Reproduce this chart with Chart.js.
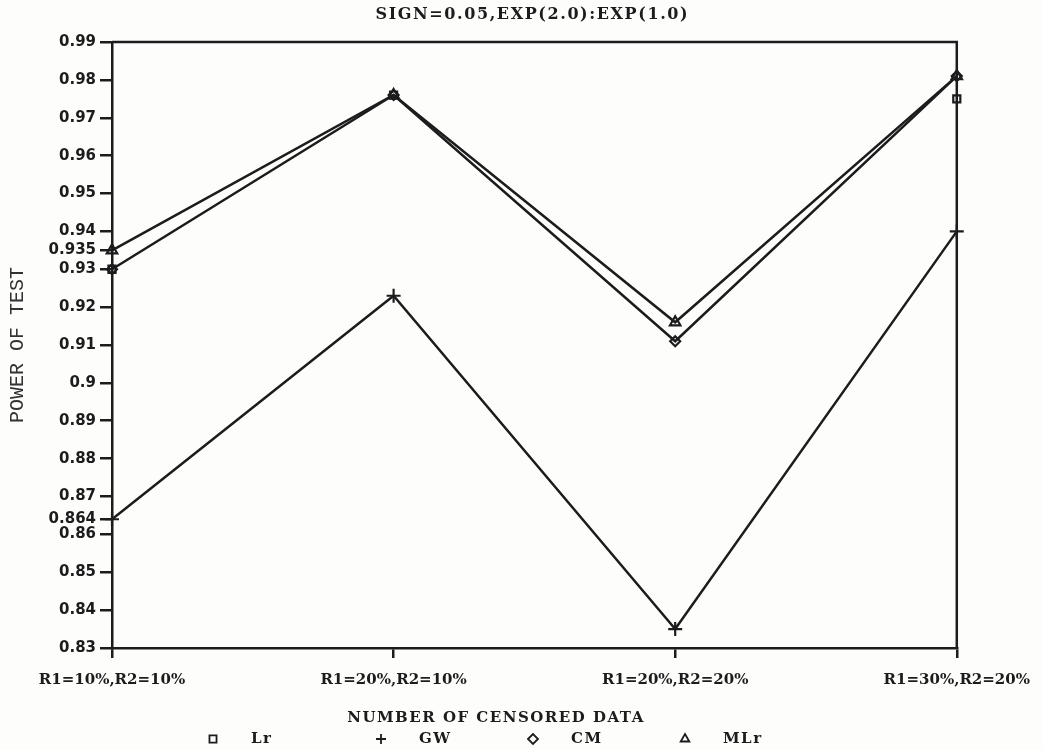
<!DOCTYPE html>
<html>
<head>
<meta charset="utf-8">
<script src="https://cdn.jsdelivr.net/npm/chart.js@4.4.1/dist/chart.umd.min.js"></script>
<style>
  html, body { margin: 0; padding: 0; background: #fff; }
  canvas { display: block; }
</style>
</head>
<body>
<canvas id="myChart" width="1043" height="750"></canvas>
<script>
// values
var categories = ['R1=10%,R2=10%', 'R1=20%,R2=10%', 'R1=20%,R2=20%', 'R1=30%,R2=20%'];
var lrValues  = [0.93, 0.976, null, 0.975];
var gwValues  = [0.864, 0.923, 0.835, 0.94];
var cmValues  = [0.93, 0.976, 0.911, 0.981];
var mlrValues = [0.935, 0.976, 0.916, 0.981];
var extraTicks = [0.935, 0.864];

var ink = '#1c1c1c';
var paper = '#fdfdfc';
var serif = '"DejaVu Serif", serif';
var legendX = [213, 381, 533, 685];

function makeSet(label, values, style, radius, showLine) {
    return {
        label: label,
        data: values,
        showLine: showLine,
        borderColor: ink,
        borderWidth: 2.5,
        pointStyle: style,
        pointRadius: radius,
        pointBorderColor: ink,
        pointBackgroundColor: 'rgba(0,0,0,0)',
        pointBorderWidth: 2.2,
        tension: 0,
        spanGaps: false
    };
}

// frame, title, axis title and legend drawn by hand like the old plotter did
var paperPlugin = {
    id: 'paper',
    beforeDraw: function(chart) {
        var ctx = chart.ctx;
        ctx.save();
        ctx.fillStyle = paper;
        ctx.fillRect(0, 0, chart.width, chart.height);
        ctx.restore();
    },
    afterDatasetsDraw: function(chart) {
        var ctx = chart.ctx;
        var a = chart.chartArea;
        ctx.save();
        ctx.strokeStyle = ink;
        ctx.lineWidth = 2.5;
        ctx.beginPath();
        ctx.moveTo(a.left, a.top);
        ctx.lineTo(a.right, a.top);
        ctx.lineTo(a.right, a.bottom);
        ctx.stroke();

        ctx.fillStyle = ink;
        ctx.textAlign = 'center';
        ctx.textBaseline = 'middle';
        ctx.font = 'bold 16px ' + serif;
        ctx.letterSpacing = '1.6px';
        ctx.fillText('SIGN=0.05,EXP(2.0):EXP(1.0)', (a.left + a.right) / 2 - 2, 15);

        ctx.font = 'bold 15px ' + serif;
        ctx.letterSpacing = '1.5px';
        ctx.fillText('NUMBER OF CENSORED DATA', 496, 718);

        // legend row
        ctx.textAlign = 'left';
        chart.data.datasets.forEach(function(ds, i) {
            var x = legendX[i];
            ctx.fillStyle = paper;
            ctx.strokeStyle = ink;
            ctx.lineWidth = 1.8;
            Chart.helpers.drawPoint(ctx, {
                pointStyle: ds.pointStyle,
                radius: 5,
                borderWidth: 1.8
            }, x, 739);
            ctx.fillStyle = ink;
            ctx.fillText(ds.label, x + 38, 739);
        });
        ctx.restore();
    }
};

var ctx = document.getElementById('myChart');
var myLineChart = new Chart(ctx, {
    type: 'line',
    data: {
        labels: categories,
        datasets: [
            makeSet('Lr', lrValues, 'rect', 5, false),
            makeSet('GW', gwValues, 'cross', 7, true),
            makeSet('CM', cmValues, 'rectRot', 5, true),
            makeSet('MLr', mlrValues, 'triangle', 6, true)
        ]
    },
    options: {
        responsive: false,
        animation: false,
        layout: { padding: { left: 0, right: 86, top: 42, bottom: 0 } },
        plugins: {
            legend: { display: false },
            title: { display: false },
            tooltip: { enabled: false }
        },
        scales: {
            x: {
                type: 'category',
                offset: false,
                afterFit: function(scale) { scale.height = 102; },
                grid: {
                    drawOnChartArea: false,
                    drawTicks: true,
                    tickLength: 10,
                    color: ink,
                    lineWidth: 2.5
                },
                border: { display: true, color: ink, width: 2.5 },
                ticks: {
                    color: ink,
                    padding: 13,
                    maxRotation: 0,
                    autoSkip: false,
                    font: { family: serif, size: 15, weight: 'bold' }
                }
            },
            y: {
                min: 0.83,
                max: 0.99,
                afterFit: function(scale) { scale.width = 112; },
                afterBuildTicks: function(scale) {
                    extraTicks.forEach(function(v) { scale.ticks.push({ value: v }); });
                    scale.ticks.sort(function(p, q) { return p.value - q.value; });
                },
                grid: {
                    drawOnChartArea: false,
                    drawTicks: true,
                    tickLength: 12,
                    color: ink,
                    lineWidth: 2.5
                },
                border: { display: true, color: ink, width: 2.5 },
                ticks: {
                    stepSize: 0.01,
                    autoSkip: false,
                    color: ink,
                    padding: 4,
                    font: { family: '"DejaVu Sans", sans-serif', size: 15, weight: 'bold' },
                    callback: function(v) { return String(Number(Number(v).toFixed(3))); }
                },
                title: {
                    display: true,
                    text: 'POWER OF TEST',
                    color: '#333',
                    padding: { top: 6, bottom: 0 },
                    font: { family: '"Liberation Mono", monospace', size: 20 }
                }
            }
        }
    },
    plugins: [paperPlugin]
});
</script>
</body>
</html>
